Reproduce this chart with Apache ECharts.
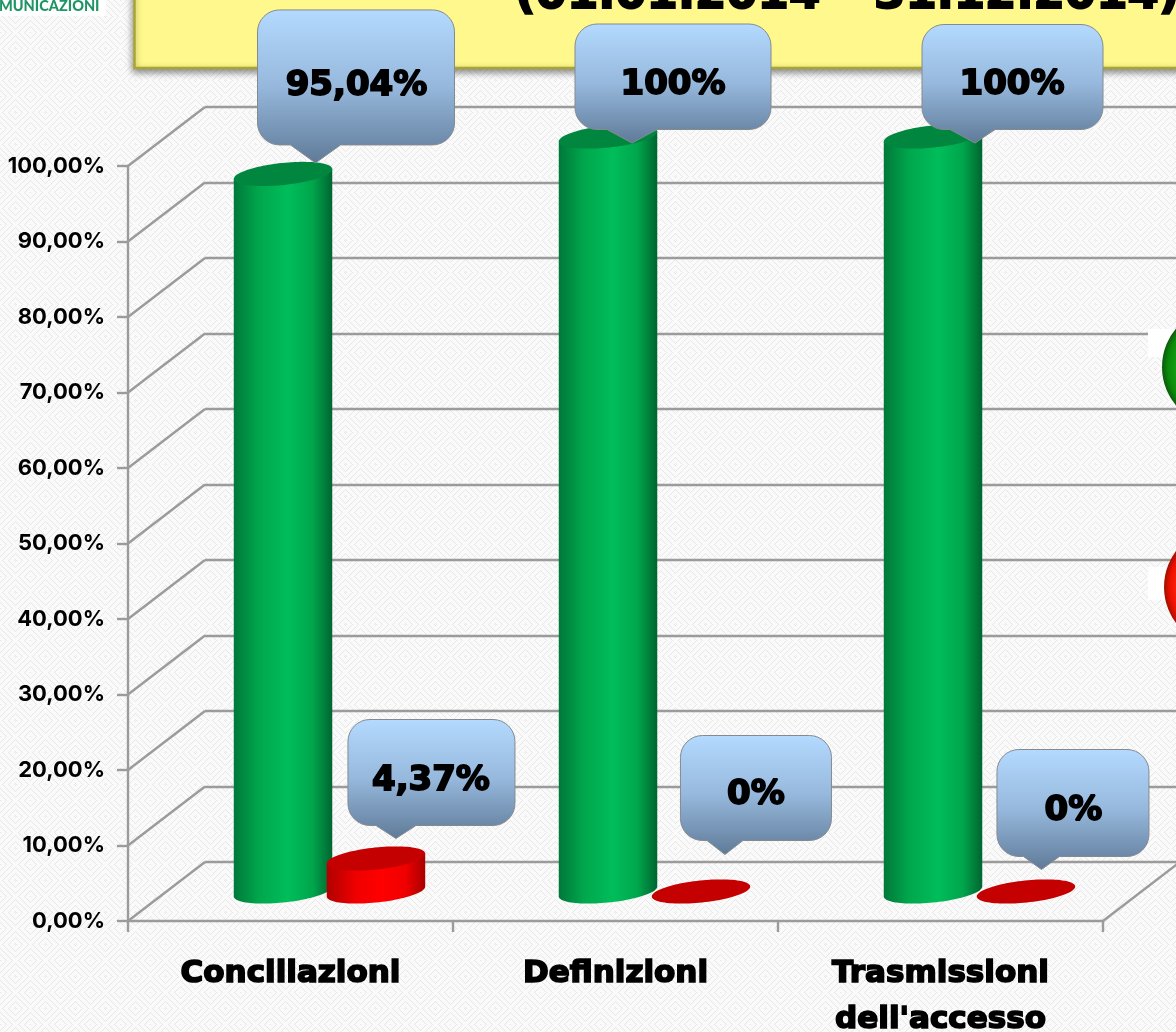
<!DOCTYPE html>
<html><head><meta charset="utf-8">
<style>html,body{margin:0;padding:0;background:#f8f8f8}#c{width:1176px;height:1032px}</style>
<script src="https://cdn.jsdelivr.net/npm/echarts@6/dist/echarts.min.js"></script>
</head><body><div id="c"></div>
<script>
// ---- data ----
const categories = ['Conciliazioni', 'Definizioni', "Trasmissioni\ndell'accesso"];
const greenValues = [95.04, 100, 100];
const redValues = [4.37, 0, 0];
const greenLabels = ['95,04%', '100%', '100%'];
const redLabels = ['4,37%', '0%', '0%'];
const yTicks = [0, 10, 20, 30, 40, 50, 60, 70, 80, 90, 100];
const yTickLabels = ['0,00%', '10,00%', '20,00%', '30,00%', '40,00%', '50,00%', '60,00%', '70,00%', '80,00%', '90,00%', '100,00%'];
const titleText = '(01.01.2014 – 31.12.2014)';
const logoText = 'MUNICAZIONI';

// ---- layout constants ----
const W = 1176, H = 1032;
const DEPTH_X = 77, DEPTH_Y = -59;
const GREEN_SHIFT = -0.1415, RED_SHIFT = 0.1445;
const TILT = -6 * Math.PI / 180, EA = 49.5, EB = 11;
const HEAVY = 'DejaVu Sans';
// callouts relative to their tip: box [left, right, top, bottom], pointer [left, right], text offset
const greenCallouts = [
  {tip: [32.5, -11], box: [-58, 139, -153, -18], ptr: [-25, 25], tx: 41, ty: -77},
  {tip: [24, 6.5], box: [-57, 139, -119, -13.5], ptr: [-25, 25], tx: 41, ty: -58},
  {tip: [42, 6.5], box: [-53, 128, -118.5, -13.5], ptr: [-25, 20], tx: 37, ty: -58}
];
const redCallouts = [
  {tip: [20, -20], box: [-48, 119, -119, -13], ptr: [-20, 20], tx: 35, ty: -57},
  {tip: [24, -37], box: [-44.5, 106.5, -119, -14], ptr: [-18, 18], tx: 31, ty: -59},
  {tip: [15.5, -22], box: [-44.5, 107.5, -120, -13], ptr: [-18, 18], tx: 32, ty: -58}
];

// ---- background tile ----
function tile() {
  const c = document.createElement('canvas'); c.width = 30; c.height = 32;
  const g = c.getContext('2d');
  g.fillStyle = '#fafafa'; g.fillRect(0, 0, 30, 32);
  g.fillStyle = '#e7e7e7';
  for (let y = 0; y < 32; y++) for (let x = 0; x < 30; x++) {
    const d = Math.abs(x - 15) + Math.abs(y - 16);
    if (d % 6 < 2 && (x + y) % 2 === 0) g.fillRect(x, y, 1, 1);
  }
  return c;
}

function ellipsePt(cx, cy, t) {
  const c = Math.cos(t), s = Math.sin(t), cp = Math.cos(TILT), sp = Math.sin(TILT);
  return [cx + EA * c * cp - EB * s * sp, cy + EA * c * sp + EB * s * cp];
}
const T0 = Math.atan(-(EB / EA) * Math.tan(TILT));

function cylinder(colors, shift) {
  return function (params, api) {
    const cat = api.value(0), v = api.value(1);
    const base = api.coord([cat, 0]), top = api.coord([cat, v]);
    const bw = api.size([1, 0])[0];
    const sx = bw * shift + DEPTH_X / 2, sy = DEPTH_Y / 2;
    const cx = base[0] + sx, by = base[1] + sy, ty = top[1] + sy;
    const children = [];
    const N = 48;
    if (v > 0) {
      const pts = [ellipsePt(cx, ty, T0 + Math.PI), ellipsePt(cx, ty, T0)];
      for (let i = 0; i <= N; i++) pts.push(ellipsePt(cx, by, T0 + Math.PI * i / N));
      children.push({type: 'polygon', shape: {points: pts}, style: {fill: {
        type: 'linear', x: 0, y: 0, x2: 1, y2: 0, colorStops: colors.side}}});
    }
    const tp = [];
    for (let i = 0; i < 2 * N; i++) tp.push(ellipsePt(cx, ty, Math.PI * i / N));
    children.push({type: 'polygon', shape: {points: tp}, style: {fill: colors.top}});
    return {type: 'group', children};
  };
}

function arc(pts, cx, cy, r, a0, a1) {
  for (let i = 0; i <= 8; i++) {
    const a = a0 + (a1 - a0) * i / 8;
    pts.push([cx + r * Math.cos(a), cy + r * Math.sin(a)]);
  }
}
function callout(layouts, shift) {
  return function (params, api) {
    const cat = api.value(0), v = api.value(1);
    const L = layouts[params.dataIndex];
    const top = api.coord([cat, v]);
    const bw = api.size([1, 0])[0];
    const tx = top[0] + bw * shift + DEPTH_X / 2 + L.tip[0];
    const ty = top[1] + DEPTH_Y / 2 + L.tip[1];
    const l = tx + L.box[0], r = tx + L.box[1], t = ty + L.box[2], b = ty + L.box[3], R = 22;
    const pts = [];
    arc(pts, l + R, t + R, R, Math.PI, 1.5 * Math.PI);
    arc(pts, r - R, t + R, R, 1.5 * Math.PI, 2 * Math.PI);
    arc(pts, r - R, b - R, R, 0, 0.5 * Math.PI);
    pts.push([tx + L.ptr[1], b], [tx, ty], [tx + L.ptr[0], b]);
    arc(pts, l + R, b - R, R, 0.5 * Math.PI, Math.PI);
    return {type: 'group', children: [
      {type: 'polygon', shape: {points: pts}, style: {
        fill: {type: 'linear', x: 0, y: 0, x2: 0, y2: 1, colorStops: [
          {offset: 0, color: '#b4daff'}, {offset: 0.5, color: '#96b8dc'}, {offset: 1, color: '#5f7a98'}]},
        stroke: '#858a90', lineWidth: 1}},
      {type: 'text', style: {text: api.value(2), x: tx + L.tx, y: ty + L.ty, align: 'center', verticalAlign: 'middle',
        fontFamily: HEAVY, fontWeight: 700, fontSize: 34, fill: '#000', stroke: '#000', lineWidth: 1.8}}
    ]};
  };
}

function depthLines(params, api) {
  const v = api.value(1);
  const p = api.coord([0, v]);
  const x0 = params.coordSys.x, y0 = p[1];
  const st = {stroke: '#9b9b9b', lineWidth: 2.4, fill: 'none'};
  const ch = [{type: 'line', shape: {x1: x0, y1: y0, x2: x0 + DEPTH_X, y2: y0 + DEPTH_Y}, style: st}];
  if (v === 0) {
    const xr = params.coordSys.x + params.coordSys.width;
    ch.push({type: 'line', shape: {x1: xr, y1: y0, x2: xr + DEPTH_X, y2: y0 + DEPTH_Y}, style: st});
  }
  return {type: 'group', children: ch};
}

const gridLine = {color: '#9b9b9b', width: 2.4};
const chart = echarts.init(document.getElementById('c'), null, {renderer: 'canvas', width: W, height: H});
chart.setOption({
  animation: false,
  backgroundColor: {image: tile(), repeat: 'repeat'},
  grid: [
    {left: 128, top: 166, width: 975, height: 755, outerBoundsMode: 'none'},
    {left: 205, top: 107, width: 971, height: 755, outerBoundsMode: 'none'}
  ],
  xAxis: [
    {gridIndex: 0, type: 'category', data: categories,
      axisLine: {lineStyle: gridLine}, axisTick: {show: true, length: 11, alignWithLabel: false, lineStyle: gridLine},
      axisLabel: {margin: 30, interval: 0, color: '#000', fontFamily: HEAVY, fontWeight: 700, fontSize: 31, lineHeight: 46,
        textBorderColor: '#000', textBorderWidth: 1.7, hideOverlap: false}},
    {gridIndex: 1, type: 'category', data: categories, show: false}
  ],
  yAxis: [
    {gridIndex: 0, type: 'value', min: 0, max: 100, interval: 10,
      axisLine: {show: true, lineStyle: gridLine}, axisTick: {show: true, length: 11, lineStyle: gridLine},
      splitLine: {show: false},
      axisLabel: {margin: 23, padding: [10, 0, 0, 0], color: '#000', fontFamily: 'Inter', fontWeight: 700, fontSize: 22,
        formatter: v => yTickLabels[yTicks.indexOf(v)]}},
    {gridIndex: 1, type: 'value', min: 0, max: 100, interval: 10,
      axisLine: {show: false}, axisTick: {show: false}, axisLabel: {show: false},
      splitLine: {show: true, lineStyle: gridLine}}
  ],
  series: [
    {type: 'custom', xAxisIndex: 0, yAxisIndex: 0, z: 2, encode: {x: 0, y: 1}, renderItem: depthLines,
      data: yTicks.map(v => [0, v])},
    {type: 'custom', name: 'Green', xAxisIndex: 0, yAxisIndex: 0, z: 5, encode: {x: 0, y: 1},
      renderItem: cylinder({top: '#00863f', side: [
        {offset: 0, color: '#00783a'}, {offset: 0.25, color: '#00a64c'}, {offset: 0.55, color: '#00bd5a'},
        {offset: 0.8, color: '#00a64c'}, {offset: 1, color: '#006530'}]}, GREEN_SHIFT),
      data: greenValues.map((v, i) => [i, v])},
    {type: 'custom', name: 'Red', xAxisIndex: 0, yAxisIndex: 0, z: 6, encode: {x: 0, y: 1},
      renderItem: cylinder({top: '#c40000', side: [
        {offset: 0, color: '#b00000'}, {offset: 0.3, color: '#f00000'}, {offset: 0.55, color: '#ff0000'},
        {offset: 0.8, color: '#f00000'}, {offset: 1, color: '#a80000'}]}, RED_SHIFT),
      data: redValues.map((v, i) => [i, v])},
    {type: 'custom', xAxisIndex: 0, yAxisIndex: 0, z: 7, encode: {x: 0, y: 1}, renderItem: callout(greenCallouts, GREEN_SHIFT),
      data: greenValues.map((v, i) => [i, v, greenLabels[i]])},
    {type: 'custom', xAxisIndex: 0, yAxisIndex: 0, z: 7, encode: {x: 0, y: 1}, renderItem: callout(redCallouts, RED_SHIFT),
      data: redValues.map((v, i) => [i, v, redLabels[i]])}
  ],
  graphic: {elements: [
    {type: 'rect', z: 3, shape: {x: 134.5, y: -20, width: 1100, height: 88},
      style: {fill: '#fff88c', stroke: '#a9a533', lineWidth: 2.5, shadowBlur: 7, shadowColor: 'rgba(0,0,0,0.45)', shadowOffsetY: 3, shadowOffsetX: -1}},
    {type: 'text', z: 4, style: {text: titleText, x: 515, y: 19, align: 'left', verticalAlign: 'bottom',
      fontFamily: HEAVY, fontWeight: 700, fontSize: 45, fill: '#000', stroke: '#000', lineWidth: 2}},
    {type: 'rect', z: 3, shape: {x: 0, y: 0, width: 106, height: 16}, style: {fill: '#ffffff'}},
    {type: 'text', z: 4, style: {text: logoText, x: -1, y: 6, verticalAlign: 'middle',
      fontFamily: 'Lato', fontWeight: 900, fontSize: 14.5, fill: '#1f9565'}},
    {type: 'rect', z: 8, shape: {x: 1148, y: 329, width: 28, height: 28}, style: {fill: '#fff'}},
    {type: 'rect', z: 8, shape: {x: 1148, y: 567, width: 28, height: 33}, style: {fill: '#fff'}},
    {type: 'circle', z: 9, shape: {cx: 1222, cy: 367, r: 60}, style: {fill: {type: 'radial', x: .5, y: .5, r: .5, colorStops: [
      {offset: .7, color: '#18a818'}, {offset: .9, color: '#0a8a0a'}, {offset: 1, color: '#0b5a0b'}]}}},
    {type: 'circle', z: 9, shape: {cx: 1224, cy: 587, r: 60}, style: {fill: {type: 'radial', x: .5, y: .5, r: .5, colorStops: [
      {offset: .7, color: '#ff3010'}, {offset: .9, color: '#f01000'}, {offset: 1, color: '#a01000'}]}}}
  ]}
});
</script></body></html>
